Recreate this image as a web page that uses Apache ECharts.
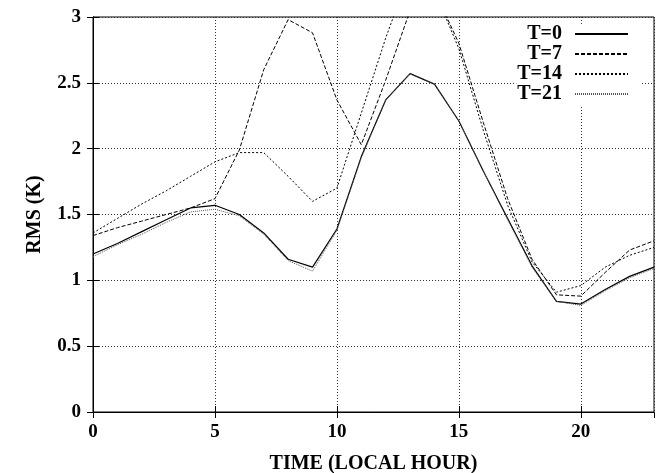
<!DOCTYPE html>
<html>
<head>
<meta charset="utf-8">
<script src="https://cdn.jsdelivr.net/npm/echarts@6/dist/echarts.min.js"></script>
<style>
html,body{margin:0;padding:0;background:#fff;}
#c{width:657px;height:473px;}
</style>
</head>
<body>
<div id="c"></div>
<script>
const hours = [0,1,2,3,4,5,6,7,8,9,10,11,12,13,14,15,16,17,18,19,20,21,22,23];
const seriesNames = ['T=0','T=7','T=14','T=21'];
const t0  = [1.20,1.28,1.37,1.46,1.55,1.57,1.50,1.36,1.16,1.10,1.39,1.94,2.37,2.57,2.49,2.21,1.83,1.47,1.11,0.84,0.82,0.93,1.03,1.10];
const t7  = [1.34,1.40,1.45,1.50,1.55,1.62,1.99,2.60,2.98,2.88,2.37,2.03,2.52,3.05,3.20,2.80,2.20,1.62,1.16,0.89,0.88,1.06,1.23,1.30];
const t14 = [1.36,1.47,1.58,1.68,1.79,1.90,1.97,1.97,1.79,1.60,1.70,2.27,2.84,3.35,3.20,2.76,2.14,1.57,1.14,0.91,0.96,1.10,1.19,1.25];
const t21 = [1.18,1.27,1.35,1.44,1.52,1.54,1.49,1.35,1.15,1.07,1.38,1.93,2.37,2.57,2.49,2.21,1.83,1.46,1.10,0.84,0.81,0.92,1.02,1.09];
const xTicks = [0,5,10,15,20];
const yTicks = [0,0.5,1,1.5,2,2.5,3];

const font = 'Liberation Serif';
const pairs = arr => hours.map((h,i)=>[h, arr[i]]);

const styles = [
  {color:'#000', width:1.2, type:'solid'},
  {color:'#000', width:1, type:[4,2]},
  {color:'#000', width:1, type:[2,2]},
  {color:'#555', width:1, type:[1,1]}
];
const dataArr = [t0,t7,t14,t21];

const chart = echarts.init(document.getElementById('c'), null, {renderer:'canvas'});
const gridLine = {show:true, lineStyle:{color:'#333', width:1, type:[1,2]}};
const labelStyle = {fontFamily:font, fontWeight:'bold', fontSize:19, color:'#000'};
chart.setOption({
  animation:false,
  backgroundColor:'#fff',
  grid:{left:93, right:3, top:17, bottom:61, show:true, borderColor:'#000', borderWidth:1,
        backgroundColor:'transparent', containLabel:false, outerBoundsMode:'none'},
  xAxis:[{
    type:'value', min:0, max:23, interval:5, position:'bottom',
    name:'TIME (LOCAL HOUR)', nameLocation:'middle', nameGap:42,
    nameTextStyle:{fontFamily:font, fontWeight:'bold', fontSize:20, color:'#000'},
    axisLine:{show:true, lineStyle:{color:'#000', width:1}},
    axisTick:{show:true, inside:true, length:6, lineStyle:{color:'#000'}},
    axisLabel:{...labelStyle, margin:11, showMaxLabel:false,
      formatter: v => xTicks.includes(v) ? String(v) : ''},
    splitLine:gridLine
  },{
    type:'value', min:0, max:23, interval:5, position:'top',
    axisLine:{show:true, lineStyle:{color:'#000'}},
    axisTick:{show:true, inside:true, length:6, lineStyle:{color:'#000'}},
    axisLabel:{show:false}, splitLine:{show:false}
  }],
  yAxis:[{
    type:'value', min:0, max:3, interval:0.5, position:'left',
    name:'RMS (K)', nameLocation:'middle', nameGap:48, nameRotate:90,
    nameTextStyle:{fontFamily:font, fontWeight:'bold', fontSize:20, color:'#000'},
    axisLine:{show:true, lineStyle:{color:'#000', width:1}},
    axisTick:{show:true, inside:true, length:6, lineStyle:{color:'#000'}},
    axisLabel:{...labelStyle, margin:12,
      formatter: v => yTicks.includes(v) ? String(v) : ''},
    splitLine:gridLine
  },{
    type:'value', min:0, max:3, interval:0.5, position:'right',
    axisLine:{show:true, lineStyle:{color:'#000'}},
    axisTick:{show:true, inside:true, length:6, lineStyle:{color:'#000'}},
    axisLabel:{show:false}, splitLine:{show:false}
  }],
  legend:{
    orient:'vertical', align:'right', right:17, top:24,
    backgroundColor:'#fff', padding:[0,11,1,1],
    itemWidth:53, itemHeight:20, itemGap:0,
    itemStyle:{opacity:0},
    textStyle:{fontFamily:font, fontWeight:'bold', fontSize:20, color:'#000', lineHeight:20, padding:[0,8,0,0]},
    data:seriesNames
  },
  series: seriesNames.map((n,i)=>({
    name:n, type:'line', data:pairs(dataArr[i]), symbol:'none', clip:true,
    xAxisIndex:0, yAxisIndex:0,
    lineStyle:styles[i], itemStyle:{color:styles[i].color}, z:2+i
  }))
});
</script>
</body>
</html>
